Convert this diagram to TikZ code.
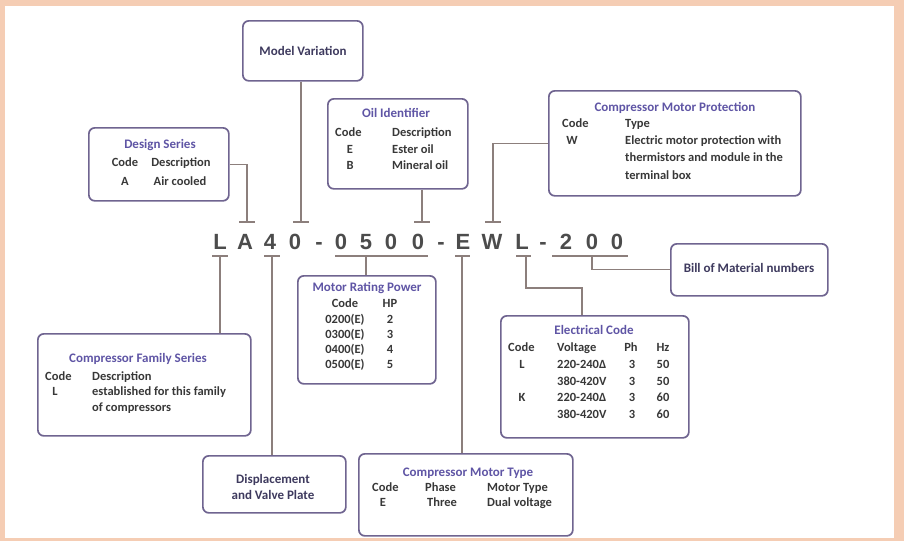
\documentclass[tikz,border=0pt]{standalone}
\usepackage{fontspec}
\setmainfont{Carlito}
\newfontfamily\bigfont{Liberation Sans}
\definecolor{peach}{HTML}{F5CDB4}
\definecolor{boxc}{HTML}{6F6490}
\definecolor{ttlc}{HTML}{5F55A5}
\definecolor{txtc}{HTML}{383838}
\definecolor{navy}{HTML}{3E3A5E}
\definecolor{connc}{HTML}{8C7F7C}
\definecolor{letc}{HTML}{4C4C4C}
\begin{document}
\begin{tikzpicture}[x=1pt,y=-1pt,
  box/.style={draw=boxc, line width=1.7pt, rounded corners=6pt, fill=white, inner sep=0pt, anchor=north west},
  ttl/.style={font=\bfseries\fontsize{13}{15}\selectfont, text=ttlc, inner sep=0pt, text height=9pt, text depth=3pt},
  txt/.style={font=\bfseries\fontsize{12.5}{14}\selectfont, text=txtc, inner sep=0pt, text height=9pt, text depth=3pt},
  lbl/.style={font=\bfseries\fontsize{13}{16}\selectfont, text=navy, inner sep=0pt, align=center},
  letter/.style={font=\bigfont\bfseries\fontsize{22}{24}\selectfont, text=letc, inner sep=0pt, anchor=base},
  conn/.style={draw=connc, line width=1.2pt}]
\useasboundingbox (0,0) rectangle (904,541);
\fill[peach] (0,0) rectangle (904,541);
\fill[white] (5,6) rectangle (894,538);

% code letters
\node[letter] (c1) at (220,249) {L};
\node[letter] (c2) at (245,249) {A};
\node[letter] (c3) at (270,249) {4};
\node[letter] (c4) at (295,249) {0};
\node[letter] (c5) at (319,249) {-};
\node[letter] (c6) at (341,249) {0};
\node[letter] (c7) at (366,249) {5};
\node[letter] (c8) at (391,249) {0};
\node[letter] (c9) at (418,249) {0};
\node[letter] (c10) at (441,249) {-};
\node[letter] (c11) at (463,249) {E};
\node[letter] (c12) at (492,249) {W};
\node[letter] (c13) at (522,249) {L};
\node[letter] (c14) at (543,249) {-};
\node[letter] (c15) at (566,249) {2};
\node[letter] (c16) at (592,249) {0};
\node[letter] (c17) at (617,249) {0};

% boxes
\node[box, minimum width=120pt, minimum height=60pt] (mv) at (242,20) {};
\node[lbl] (mvt) at (303,51) {Model Variation};

\node[box, minimum width=140pt, minimum height=73pt] (ds) at (88,127) {};
\node[ttl] (dst) at (160,145) {Design Series};
\node[txt] (dsc) at (125,163) {Code};
\node[txt] (dsd) at (181,163) {Description};
\node[txt] (dsa) at (125,182) {A};
\node[txt] (dsv) at (180,182) {Air cooled};

\node[box, minimum width=140pt, minimum height=90pt] (oil) at (327,98) {};
\node[ttl] (oilt) at (396,114) {Oil Identifier};
\node[txt, anchor=west] (oilc) at (335,133) {Code};
\node[txt, anchor=west] (oild) at (392,133) {Description};
\node[txt] (oile) at (350,150) {E};
\node[txt, anchor=west] (oilev) at (392,150) {Ester oil};
\node[txt] (oilb) at (350,166) {B};
\node[txt, anchor=west] (oilbv) at (392,166) {Mineral oil};

\node[box, minimum width=252pt, minimum height=105pt] (mp) at (548,90) {};
\node[ttl] (mpt) at (675,108) {Compressor Motor Protection};
\node[txt, anchor=west] (mpc) at (562,124) {Code};
\node[txt, anchor=west] (mpd) at (625,124) {Type};
\node[txt] (mpw) at (572,141) {W};
\node[txt, anchor=west] (mpl1) at (625,141) {Electric motor protection with};
\node[txt, anchor=west] (mpl2) at (625,158) {thermistors and module in the};
\node[txt, anchor=west] (mpl3) at (625,176) {terminal box};

\node[box, minimum width=157pt, minimum height=52pt] (bom) at (670,243) {};
\node[lbl] (bomt) at (749,268) {Bill of Material numbers};

\node[box, minimum width=213pt, minimum height=102pt] (cf) at (37,333) {};
\node[ttl] (cft) at (138,359) {Compressor Family Series};
\node[txt, anchor=west] (cfc) at (45,377) {Code};
\node[txt, anchor=west] (cfd) at (92,377) {Description};
\node[txt] (cfl) at (55,392) {L};
\node[txt, anchor=west] (cfl1) at (92,392) {established for this family};
\node[txt, anchor=west] (cfl2) at (92,408) {of compressors};

\node[box, minimum width=138pt, minimum height=108pt] (mr) at (297,275) {};
\node[ttl] (mrt) at (367,288) {Motor Rating Power};
\node[txt] (mrc) at (345,304) {Code};
\node[txt] (mrh) at (390,304) {HP};
\node[txt] (mr1) at (345,320) {0200(E)};
\node[txt] (mr1h) at (390,320) {2};
\node[txt] (mr2) at (345,335) {0300(E)};
\node[txt] (mr2h) at (390,335) {3};
\node[txt] (mr3) at (345,350) {0400(E)};
\node[txt] (mr3h) at (390,350) {4};
\node[txt] (mr4) at (345,365) {0500(E)};
\node[txt] (mr4h) at (390,365) {5};

\node[box, minimum width=188pt, minimum height=122pt] (ec) at (500,315) {};
\node[ttl] (ect) at (594,331) {Electrical Code};
\node[txt, anchor=west] (ecc) at (508,348) {Code};
\node[txt, anchor=west] (ecv) at (557,348) {Voltage};
\node[txt] (ecp) at (631,348) {Ph};
\node[txt] (ech) at (663,348) {Hz};
\node[txt] (ecl) at (522,365) {L};
\node[txt, anchor=west] (ecv1) at (557,365) {220-240Δ};
\node[txt] (ecp1) at (632,365) {3};
\node[txt] (ech1) at (663,365) {50};
\node[txt, anchor=west] (ecv2) at (557,382) {380-420V};
\node[txt] (ecp2) at (632,382) {3};
\node[txt] (ech2) at (663,382) {50};
\node[txt] (eck) at (522,398) {K};
\node[txt, anchor=west] (ecv3) at (557,398) {220-240Δ};
\node[txt] (ecp3) at (632,398) {3};
\node[txt] (ech3) at (663,398) {60};
\node[txt, anchor=west] (ecv4) at (557,415) {380-420V};
\node[txt] (ecp4) at (632,415) {3};
\node[txt] (ech4) at (663,415) {60};

\node[box, minimum width=143pt, minimum height=57pt] (disp) at (202,455) {};
\node[lbl] (dispt) at (273,487) {Displacement\\and Valve Plate};

\node[box, minimum width=214pt, minimum height=82pt] (mt) at (358,453) {};
\node[ttl] (mtt) at (468,473) {Compressor Motor Type};
\node[txt, anchor=west] (mtc) at (372,488) {Code};
\node[txt, anchor=west] (mtp) at (425,488) {Phase};
\node[txt, anchor=west] (mtm) at (487,488) {Motor Type};
\node[txt] (mte) at (383,503) {E};
\node[txt, anchor=west] (mtp1) at (427,503) {Three};
\node[txt, anchor=west] (mtm1) at (487,503) {Dual voltage};

% tick coordinates
\coordinate (tA) at (247,222);
\coordinate (tMV) at (301,222);
\coordinate (tO) at (422,222);
\coordinate (tW) at (493,222);
\coordinate (bL) at (220,256);
\coordinate (b4) at (272,256);
\coordinate (b0) at (366,256);
\coordinate (bE) at (462,256);
\coordinate (bL2) at (526,256);
\coordinate (b200) at (592,256);
\coordinate (jog) at (582,288);

% top ticks
\foreach \t in {tA,tMV,tO,tW} \draw[conn] (\t) ++(-8,0) -- ++(16,0);
% bottom bars
\draw[conn] (212,256) -- (228,256);
\draw[conn] (264,256) -- (280,256);
\draw[conn] (335,256) -- (428,256);
\draw[conn] (455,256) -- (470,256);
\draw[conn] (516,256) -- (531,256);
\draw[conn] (552,256) -- (628,256);

% connectors
\draw[conn] (ds.east) -| (tA);
\draw[conn] (mv.south -| tMV) -- (tMV);
\draw[conn] (oil.south -| tO) -- (tO);
\draw[conn] (mp.west) -| (tW);
\draw[conn] (bL) -- (bL |- cf.north);
\draw[conn] (b4) -- (b4 |- disp.north);
\draw[conn] (b0) -- (b0 |- mr.north);
\draw[conn] (bE) -- (bE |- mt.north);
\draw[conn] (bL2) |- (jog) -- (jog |- ec.north);
\draw[conn] (b200) |- (bom.west);
\end{tikzpicture}
\end{document}
